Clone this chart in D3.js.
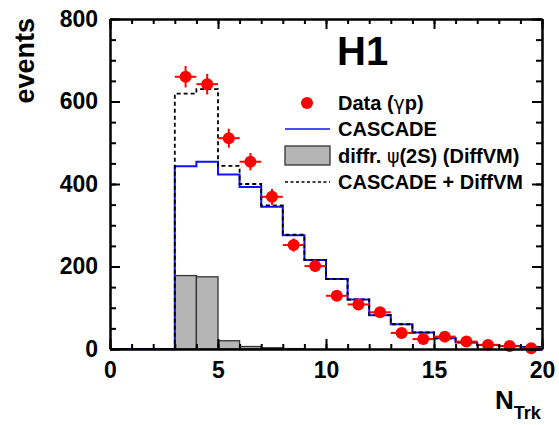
<!DOCTYPE html>
<html>
<head>
  <meta charset="utf-8">
  <script src="https://d3js.org/d3.v7.min.js"></script>
  <style>
    body { margin: 0; background: #fff; }
    text { font-family: "Liberation Sans", Arial, sans-serif; font-weight: bold; }
  </style>
</head>
<body>
<script>
  // bin lower edges, width 1
  var binEdges = d3.range(0, 20);
  var cascade   = [0, 0, 0, 443, 454, 423, 393, 345, 276, 216, 170, 120, 82, 60, 40, 26, 16, 10, 7, 5];
  var diffvm    = [0, 0, 0, 178, 175, 20, 6, 3, 1, 0, 0, 0, 0, 0, 0, 0, 0, 0, 0, 0];
  var cascadeSum = [0, 0, 0, 619, 630, 444, 400, 348, 277, 216, 170, 120, 82, 60, 40, 26, 16, 10, 7, 5];

  var dataX   = [3.5, 4.5, 5.5, 6.5, 7.5, 8.5, 9.5, 10.5, 11.5, 12.5, 13.5, 14.5, 15.5, 16.5, 17.5, 18.5, 19.5];
  var dataY   = [660, 642, 511, 454, 369, 252, 201, 129, 108, 89, 39, 24, 30, 18, 10, 7, 2];
  var dataErr = [26, 25, 23, 21, 19, 16, 14, 11, 10, 9, 6, 5, 5, 4, 3, 3, 1];

  var xTicks = [0, 5, 10, 15, 20];
  var yTicks = [0, 200, 400, 600, 800];

  var W = 559, H = 425;
  var svg = d3.select("body").append("svg")
      .attr("width", W).attr("height", H);

  var x = d3.scaleLinear().domain([0, 20]).range([110, 542]);
  var y = d3.scaleLinear().domain([0, 800]).range([349, 19]);

  // step path for a histogram
  function stepPath(vals) {
    var p = d3.path();
    p.moveTo(x(binEdges[0]), y(0));
    vals.forEach(function (v, i) {
      p.lineTo(x(binEdges[i]), y(v));
      p.lineTo(x(binEdges[i] + 1), y(v));
    });
    p.lineTo(x(20), y(0));
    return p.toString();
  }

  // grey DiffVM bars
  svg.append("g").selectAll("rect")
    .data(diffvm.map(function (v, i) { return {x0: binEdges[i], v: v}; }).filter(function (d) { return d.v > 0; }))
    .enter().append("rect")
      .attr("x", function (d) { return x(d.x0); })
      .attr("y", function (d) { return y(d.v); })
      .attr("width", function (d) { return x(d.x0 + 1) - x(d.x0); })
      .attr("height", function (d) { return y(0) - y(d.v); })
      .attr("fill", "#b5b5b5")
      .attr("stroke", "#333")
      .attr("stroke-width", 1.3);

  svg.append("path").attr("d", stepPath(cascade))
    .attr("fill", "none").attr("stroke", "#1010ff").attr("stroke-width", 2);
  svg.append("path").attr("d", stepPath(cascadeSum))
    .attr("fill", "none").attr("stroke", "#000").attr("stroke-width", 1.8)
    .attr("stroke-dasharray", "4,3");

  // data points
  var pts = svg.append("g");
  dataX.forEach(function (xv, i) {
    var g = pts.append("g");
    g.append("line")
      .attr("x1", x(xv - 0.5)).attr("x2", x(xv + 0.5))
      .attr("y1", y(dataY[i])).attr("y2", y(dataY[i]));
    g.append("line")
      .attr("x1", x(xv)).attr("x2", x(xv))
      .attr("y1", y(Math.max(0, dataY[i] - dataErr[i]))).attr("y2", y(dataY[i] + dataErr[i]));
    g.selectAll("line").attr("stroke", "#ff0000").attr("stroke-width", 2);
    g.append("circle").attr("cx", x(xv)).attr("cy", y(dataY[i])).attr("r", 6).attr("fill", "#ff0000");
  });

  // axes
  function styleAxis(g) {
    g.selectAll("path, line").attr("stroke", "#000").attr("stroke-width", 2);
    g.selectAll("text").attr("fill", "#000").style("font-size", "23px")
      .style("font-family", "'Liberation Sans', Arial, sans-serif").style("font-weight", "bold");
  }
  var xMinor = d3.range(0, 21);
  var yMinor = d3.range(0, 801, 50);

  svg.append("g").attr("transform", "translate(0," + y(0) + ")")
    .call(d3.axisBottom(x).tickValues(xMinor).tickSize(-5).tickSizeOuter(0).tickFormat(""))
    .call(styleAxis);
  svg.append("g").attr("transform", "translate(0," + y(0) + ")")
    .call(d3.axisBottom(x).tickValues(xTicks).tickSize(-10).tickSizeOuter(0).tickPadding(13).tickFormat(d3.format("d")))
    .call(styleAxis);
  svg.append("g").attr("transform", "translate(0," + y(800) + ")")
    .call(d3.axisTop(x).tickValues(xMinor).tickSize(-5).tickSizeOuter(0).tickFormat(""))
    .call(styleAxis);
  svg.append("g").attr("transform", "translate(0," + y(800) + ")")
    .call(d3.axisTop(x).tickValues(xTicks).tickSize(-10).tickSizeOuter(0).tickFormat(""))
    .call(styleAxis);

  svg.append("g").attr("transform", "translate(" + x(0) + ",0)")
    .call(d3.axisLeft(y).tickValues(yMinor).tickSize(-6).tickSizeOuter(0).tickFormat(""))
    .call(styleAxis);
  svg.append("g").attr("transform", "translate(" + x(0) + ",0)")
    .call(d3.axisLeft(y).tickValues(yTicks).tickSize(-10).tickSizeOuter(0).tickPadding(12).tickFormat(d3.format("d")))
    .call(styleAxis);
  svg.append("g").attr("transform", "translate(" + x(20) + ",0)")
    .call(d3.axisRight(y).tickValues(yMinor).tickSize(-6).tickSizeOuter(0).tickFormat(""))
    .call(styleAxis);
  svg.append("g").attr("transform", "translate(" + x(20) + ",0)")
    .call(d3.axisRight(y).tickValues(yTicks).tickSize(-10).tickSizeOuter(0).tickFormat(""))
    .call(styleAxis);

  // axis titles
  svg.append("text")
    .attr("transform", "translate(34,18) rotate(-90)")
    .attr("text-anchor", "end")
    .style("font-size", "27px")
    .text("events");

  var nt = svg.append("text").attr("x", 495).attr("y", 409).style("font-size", "26px");
  nt.append("tspan").text("N");
  nt.append("tspan").attr("dy", 10).style("font-size", "18px").text("Trk");

  // H1 label
  svg.append("text").attr("x", 337).attr("y", 65).style("font-size", "40px").text("H1");

  // legend
  var lx0 = 285, lx1 = 330, tx = 338;
  var rows = [103, 129, 155.5, 182];
  var leg = svg.append("g");
  leg.append("circle").attr("cx", (lx0 + lx1) / 2 - 0.5).attr("cy", rows[0]).attr("r", 6).attr("fill", "#ff0000");
  leg.append("line").attr("x1", lx0).attr("x2", lx1).attr("y1", rows[1]).attr("y2", rows[1])
    .attr("stroke", "#1010ff").attr("stroke-width", 1.5);
  leg.append("rect").attr("x", lx0).attr("y", rows[2] - 9.5).attr("width", lx1 - lx0).attr("height", 19)
    .attr("fill", "#b5b5b5").attr("stroke", "#333").attr("stroke-width", 1.3);
  leg.append("line").attr("x1", lx0).attr("x2", lx1).attr("y1", rows[3]).attr("y2", rows[3])
    .attr("stroke", "#000").attr("stroke-width", 1.5).attr("stroke-dasharray", "3,2.5");

  function legText(row, parts) {
    var t = leg.append("text").attr("x", tx).attr("y", row + 7).style("font-size", "20px");
    parts.forEach(function (p) {
      var s = t.append("tspan").text(p[0]);
      if (p[1]) s.style("font-weight", "normal").style("font-family", "'DejaVu Sans', sans-serif").style("font-size", "19px");
    });
  }
  legText(rows[0], [["Data ("], ["\u03b3", true], ["p)"]]);
  legText(rows[1], [["CASCADE"]]);
  legText(rows[2], [["diffr. "], ["\u03c8", true], ["(2S) (DiffVM)"]]);
  legText(rows[3], [["CASCADE + DiffVM"]]);
</script>
</body>
</html>
